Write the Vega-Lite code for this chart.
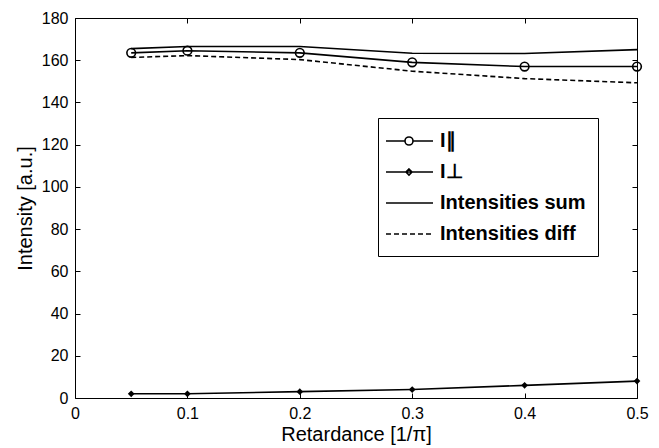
{
  "$schema": "https://vega.github.io/schema/vega-lite/v6.json",
  "width": 562,
  "height": 380,
  "autosize": "none",
  "padding": {"left": 75, "top": 18, "right": 22, "bottom": 50},
  "background": "white",
  "config": {
    "font": "Liberation Sans",
    "view": {"stroke": "black", "strokeWidth": 1},
    "axis": {
      "grid": false,
      "domain": false,
      "labelFont": "Liberation Sans",
      "titleFont": "Liberation Sans",
      "labelFontSize": 16,
      "titleFontSize": 20,
      "titleFontWeight": "normal",
      "labelColor": "black",
      "titleColor": "black",
      "tickColor": "black",
      "tickSize": -5,
      "tickWidth": 1
    }
  },
  "data": {
    "values": [
      {"r": 0.05, "v": 163.5, "s": "I∥"},
      {"r": 0.1, "v": 164.5, "s": "I∥"},
      {"r": 0.2, "v": 163.5, "s": "I∥"},
      {"r": 0.3, "v": 159, "s": "I∥"},
      {"r": 0.4, "v": 157, "s": "I∥"},
      {"r": 0.5, "v": 157, "s": "I∥"},
      {"r": 0.05, "v": 2, "s": "I⊥"},
      {"r": 0.1, "v": 2, "s": "I⊥"},
      {"r": 0.2, "v": 3, "s": "I⊥"},
      {"r": 0.3, "v": 4, "s": "I⊥"},
      {"r": 0.4, "v": 6, "s": "I⊥"},
      {"r": 0.5, "v": 8, "s": "I⊥"},
      {"r": 0.05, "v": 165.5, "s": "Intensities sum"},
      {"r": 0.1, "v": 166.5, "s": "Intensities sum"},
      {"r": 0.2, "v": 166.5, "s": "Intensities sum"},
      {"r": 0.3, "v": 163.3, "s": "Intensities sum"},
      {"r": 0.4, "v": 163.2, "s": "Intensities sum"},
      {"r": 0.5, "v": 165, "s": "Intensities sum"},
      {"r": 0.05, "v": 161.3, "s": "Intensities diff"},
      {"r": 0.1, "v": 162.2, "s": "Intensities diff"},
      {"r": 0.2, "v": 160.3, "s": "Intensities diff"},
      {"r": 0.3, "v": 154.8, "s": "Intensities diff"},
      {"r": 0.4, "v": 151.3, "s": "Intensities diff"},
      {"r": 0.5, "v": 149.3, "s": "Intensities diff"}
    ]
  },
  "layer": [
    {
      "transform": [{"filter": "datum.s !== 'Intensities diff'"}],
      "mark": {"type": "line", "color": "black", "strokeWidth": 1.6},
      "encoding": {
        "x": {
          "field": "r", "type": "quantitative",
          "scale": {"domain": [0, 0.5], "nice": false},
          "axis": {"orient": "bottom", "title": "Retardance [1/π]", "values": [0, 0.1, 0.2, 0.3, 0.4, 0.5], "format": ".1~f", "labelPadding": 12, "titlePadding": 3, "labelFlush": false}
        },
        "y": {
          "field": "v", "type": "quantitative",
          "scale": {"domain": [0, 180], "nice": false},
          "axis": {"orient": "left", "title": "Intensity [a.u.]", "values": [0, 20, 40, 60, 80, 100, 120, 140, 160, 180], "labelPadding": 12, "titlePadding": 6}
        },
        "detail": {"field": "s"}
      }
    },
    {
      "transform": [{"filter": "datum.s === 'Intensities diff'"}],
      "mark": {"type": "line", "color": "black", "strokeWidth": 1.6, "strokeDash": [5, 3]},
      "encoding": {
        "x": {"field": "r", "type": "quantitative", "axis": null},
        "y": {"field": "v", "type": "quantitative", "axis": null}
      }
    },
    {
      "transform": [{"filter": "datum.s === 'I∥'"}],
      "mark": {"type": "point", "shape": "circle", "filled": false, "color": "black", "strokeWidth": 1.6, "size": 75, "opacity": 1},
      "encoding": {
        "x": {"field": "r", "type": "quantitative", "axis": {"orient": "top", "labels": false, "title": null, "values": [0, 0.1, 0.2, 0.3, 0.4, 0.5]}},
        "y": {"field": "v", "type": "quantitative", "axis": {"orient": "right", "labels": false, "title": null, "values": [0, 20, 40, 60, 80, 100, 120, 140, 160, 180]}}
      }
    },
    {
      "transform": [{"filter": "datum.s === 'I⊥'"}],
      "mark": {"type": "point", "shape": "diamond", "filled": true, "color": "black", "size": 45, "opacity": 1},
      "encoding": {
        "x": {"field": "r", "type": "quantitative", "axis": null},
        "y": {"field": "v", "type": "quantitative", "axis": null}
      }
    },
    {
      "transform": [{"filter": "datum.r > 1"}],
      "mark": {"type": "point", "filled": false, "color": "black", "strokeWidth": 1.6, "opacity": 1},
      "encoding": {
        "x": {"field": "r", "type": "quantitative", "axis": null},
        "y": {"field": "v", "type": "quantitative", "axis": null},
        "shape": {
          "field": "s", "type": "nominal",
          "scale": {
            "domain": ["I∥", "I⊥", "Intensities sum", "Intensities diff"],
            "range": [
              "M-1.5,0H0.4M1.2,0H3.2M0.4,0A0.4,0.4 0 1,1 1.2,0A0.4,0.4 0 1,1 0.4,0",
              "M-1.5,0H3.2M0.8,-0.3L1.1,0L0.8,0.3L0.5,0Z",
              "M-1.5,0H3.2",
              "M-1.5,0H-1M-0.7,0H-0.2M0.1,0H0.6M0.9,0H1.4M1.7,0H2.2M2.5,0H3"
            ]
          },
          "legend": {
            "title": null,
            "orient": "none",
            "legendX": 303,
            "legendY": 100,
            "padding": 12,
            "strokeColor": "black",
            "fillColor": "white",
            "symbolSize": 400,
            "symbolStrokeWidth": 1.6,
            "symbolStrokeColor": "black",
            "symbolFillColor": "white",
            "symbolOpacity": 1,
            "labelFont": "Liberation Sans",
            "labelFontSize": 20,
            "labelFontWeight": "bold",
            "labelColor": "black",
            "labelOffset": 28,
            "labelLimit": 300,
            "rowPadding": 10,
            "labelExpr": "datum.label + '\u00a0\u00a0\u00a0\u00a0'"
          }
        }
      }
    }
  ]
}
